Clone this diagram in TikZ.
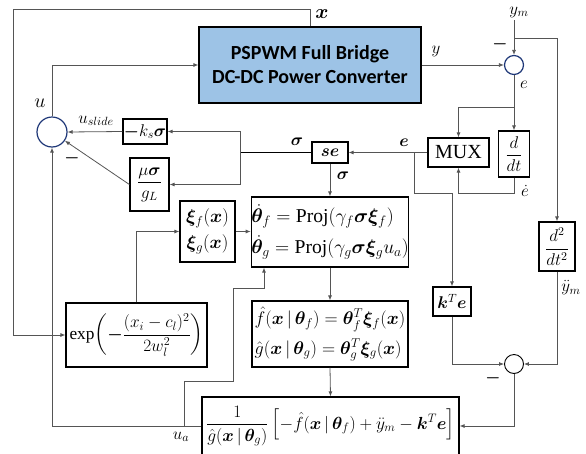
\RequirePackage{fix-cm}
\documentclass[tikz,border=0pt]{standalone}
\usepackage{amsmath}
\usepackage{bm}
\usepackage{fontspec}
\setmainfont{Liberation Serif}
\newfontfamily\plantfont{Carlito}
\usetikzlibrary{arrows.meta,calc}
\definecolor{plantblue}{RGB}{157,195,230}
\definecolor{linegray}{RGB}{85,85,85}
\definecolor{navyc}{RGB}{31,56,120}
\begin{document}
\begin{tikzpicture}[x=1pt,y=-1pt,
  font=\fontsize{17}{20}\selectfont,
  blk/.style={draw=black, line width=1.2pt, inner sep=0pt, fill=white},
  conn/.style={draw=linegray, line width=0.8pt},
  arr/.style={conn, -{Latex[length=5pt,width=4pt]}},
  thickln/.style={draw=black, line width=1.8pt},
  sumj/.style={circle, draw=navyc, line width=1.2pt, inner sep=0pt, fill=white},
  lbl/.style={inner sep=0pt}
]
\useasboundingbox (0,0) rectangle (586,453);

% blocks
\node[blk, fill=plantblue, minimum width=222pt, minimum height=76pt,
      font=\plantfont\bfseries\fontsize{20}{24}\selectfont, align=center]
      (plant) at (310,65) {PSPWM Full Bridge\\DC-DC Power Converter};
\node[sumj, minimum size=30pt] (sumU) at (52,132) {};
\node[sumj, minimum size=19pt] (sumT) at (514,65) {};
\node[sumj, draw=black, line width=0.9pt, minimum size=19pt] (sumL) at (514,364) {};
\node[blk, minimum width=44pt, minimum height=25pt] (ks) at (145,131.5) {$\bm{-}k_s\bm{\sigma}$};
\node[blk, minimum width=39pt, minimum height=53pt] (mu) at (149.5,184.5) {$\dfrac{\mu\bm{\sigma}}{g_L}$};
\node[blk, minimum width=36pt, minimum height=21pt] (se) at (330,152.5) {$\bm{se}$};
\node[blk, minimum width=61pt, minimum height=29pt, font=\fontsize{20}{22}\selectfont] (mux) at (458.5,152.5) {MUX};
\node[blk, minimum width=31pt, minimum height=46pt] (ddt) at (514,154) {$\dfrac{d}{dt}$};
\node[blk, minimum width=36pt, minimum height=49pt] (d2) at (557,246.5) {$\dfrac{d^2}{dt^2}$};
\node[blk, minimum width=55pt, minimum height=61pt, align=center, font=\fontsize{18.5}{21}\selectfont] (xi) at (207.5,231.5)
  {$\bm{\xi}_f(\bm{x})$\\[5pt]$\bm{\xi}_g(\bm{x})$};
\node[blk, minimum width=156pt, minimum height=70pt, align=left, font=\fontsize{19.6}{22}\selectfont] (theta) at (330,232)
  {$\dot{\bm{\theta}}_f=\operatorname{Proj}(\gamma_f\bm{\sigma}\bm{\xi}_f)$\\[6pt]
   $\dot{\bm{\theta}}_g=\operatorname{Proj}(\gamma_g\bm{\sigma}\bm{\xi}_g u_a)$};
\node[blk, minimum width=156pt, minimum height=66pt, align=left, font=\fontsize{18.2}{21}\selectfont] (fhat) at (330,334)
  {$\hat f(\bm{x}\,|\,\bm{\theta}_f)=\bm{\theta}_f^T\bm{\xi}_f(\bm{x})$\\[6pt]
   $\hat g(\bm{x}\,|\,\bm{\theta}_g)=\bm{\theta}_g^T\bm{\xi}_g(\bm{x})$};
\node[blk, minimum width=141pt, minimum height=64pt, font=\fontsize{17.3}{20}\selectfont] (exp) at (136.5,335)
  {$\exp\!\left(\bm{-}\dfrac{(x_i-c_l)^2}{2w_l^2}\right)$};
\node[blk, minimum width=38pt, minimum height=29pt] (kte) at (452,301.5) {$\bm{k}^T\bm{e}$};
\node[blk, minimum width=257pt, minimum height=58pt, font=\fontsize{17.5}{20}\selectfont] (bottom) at (330.5,426)
  {$\dfrac{1}{\hat g(\bm{x}\,|\,\bm{\theta}_g)}\left[-\hat f(\bm{x}\,|\,\bm{\theta}_f)+\ddot y_m-\bm{k}^T\bm{e}\right]$};

% coordinates
\coordinate (ym) at (514,20);
\coordinate (ymb) at (514,38);
\coordinate (eb) at (514,107);
\coordinate (edot) at (514,193);
\coordinate (esplit) at (414,152.5);
\coordinate (sgsplit) at (240,152.5);
\coordinate (uasplit) at (184,426);
\coordinate (uaturn) at (264,288);

% connectors
\draw[arr] (plant.north) -- (310,9) -- (13,9) |- (exp.west);
\draw[arr] (sumU.north) |- (plant.west);
\draw[arr] (plant.east) -- (sumT.west);
\draw[arr] (ym) -- (sumT.north);
\draw[arr] (ymb) -| (d2.north);
\draw[arr] (sumT.south) -- (ddt.north);
\draw[arr] (eb) -| (mux.north);
\draw[arr] (ddt.south) -- (edot) -| (mux.south);
\draw[arr] (mux.west) -- (se.east);
\draw[arr] (esplit) -- (414,193) -| (kte.north);
\draw[thickln] (se.west) -- (sgsplit);
\draw[arr] (sgsplit) |- (ks.east);
\draw[arr] (sgsplit) |- (mu.east);
\draw[arr] (ks.west) -- (sumU.east);
\draw[arr] (mu.west) -- (sumU);
\draw[arr] (se.south) -- (theta.north);
\draw[arr] (exp.north) |- (xi.west);
\draw[arr] (xi.east) -- (xi.east -| theta.west);
\draw[arr] (theta.south) -- (fhat.north);
\draw[arr] (fhat.south) -- (bottom.north);
\draw[arr] (bottom.west) -| (sumU.south);
\draw[arr] (uasplit) -- (184,381) -- (233,381) -- (233,288) -- (uaturn) -- (uaturn |- theta.south);
\draw[arr] (kte.south) |- (sumL.west);
\draw[arr] (d2.south) |- (sumL.east);
\draw[arr] (sumL.south) |- (bottom.east);

% labels
\node[lbl, font=\fontsize{20}{22}\selectfont] (lx) at (322,14) {$\bm{x}$};
\node[lbl, font=\fontsize{20}{22}\selectfont] (lu) at (40,103) {$u$};
\node[lbl] (lus) at (96,121) {$u_{slide}$};
\node[lbl] (lm1) at (72,158) {$\bm{-}$};
\node[lbl] (ly) at (436,51) {$y$};
\node[lbl] (lym) at (519,12) {$y_m$};
\node[lbl] (lm2) at (500,44) {$\bm{-}$};
\node[lbl] (le) at (524,85) {$e$};
\node[lbl] (lbe) at (404,143) {$\bm{e}$};
\node[lbl] (led) at (525,191) {$\dot e$};
\node[lbl] (ls1) at (297,142) {$\bm{\sigma}$};
\node[lbl] (ls2) at (343,176) {$\bm{\sigma}$};
\node[lbl] (lua) at (181,437) {$u_a$};
\node[lbl] (lydd) at (571,288) {$\ddot y_m$};
\node[lbl] (lm3) at (493,378) {$\bm{-}$};
\end{tikzpicture}
\end{document}
